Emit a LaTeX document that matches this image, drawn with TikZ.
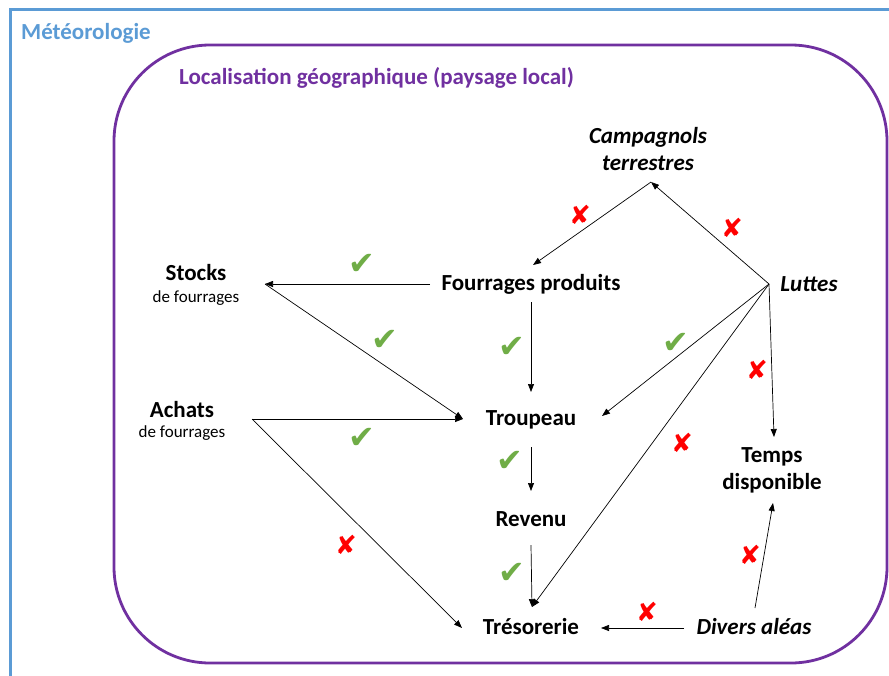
\documentclass[tikz,border=0pt]{standalone}
\usepackage{fontspec}
\setmainfont{Carlito}
\newfontfamily\symfont{DejaVu Sans}
\usetikzlibrary{arrows.meta}
\definecolor{meteo}{RGB}{91,155,213}
\definecolor{loc}{RGB}{112,48,160}
\definecolor{okgreen}{RGB}{112,173,71}
\definecolor{nored}{RGB}{255,0,0}
\begin{document}
\begin{tikzpicture}[x=1pt,y=-1pt,
  lbl/.style={font=\fontsize{23}{27}\selectfont\bfseries, align=center, inner sep=0pt},
  ilbl/.style={font=\fontsize{23}{27}\selectfont\bfseries\itshape, align=center, inner sep=0pt},
  sub/.style={font=\fontsize{17}{20}\selectfont, inner sep=0pt},
  link/.style={draw=black, line width=0.7pt, -{Triangle[length=8pt,width=6pt]}},
  ok/.style={text=okgreen, font=\symfont\fontsize{32}{32}\selectfont, inner sep=0pt},
  nok/.style={text=nored, font=\symfont\bfseries\fontsize{26}{26}\selectfont, inner sep=0pt}]
\useasboundingbox (0,0) rectangle (889,675);
% frames
\draw[meteo, line width=3pt] (10,680) -- (10,9) -- (895,9);
\draw[loc, line width=2.8pt, rounded corners=96pt] (114,45) rectangle (887,663);
\node[lbl, anchor=west, text=meteo] (meteo) at (21,33) {Météorologie};
\node[lbl, anchor=west, text=loc] (loc) at (179,78) {Localisation géographique (paysage local)};
% nodes
\node[ilbl] (camp) at (648,149) {Campagnols\\terrestres};
\node[lbl] (fp) at (531,284) {Fourrages produits};
\node[lbl] (stocks) at (196,273) {Stocks};
\node[sub] (stocksd) at (196,298) {de fourrages};
\node[lbl] (achats) at (182,410) {Achats};
\node[sub] (achatsd) at (182,433) {de fourrages};
\node[lbl] (troupeau) at (531,420) {Troupeau};
\node[lbl] (revenu) at (531,519) {Revenu};
\node[lbl] (treso) at (531,627) {Trésorerie};
\node[ilbl] (luttes) at (809,284) {Luttes};
\node[lbl] (temps) at (772,470) {Temps\\disponible};
\node[ilbl] (divers) at (754,627) {Divers aléas};
% connection points
\coordinate (stocksPt) at (265,284);
\coordinate (achatsPt) at (252,419);
\coordinate (luttesPt) at (769,284);
\coordinate (campS) at (651,182);
\coordinate (fpW) at (430,284);
\coordinate (fpS) at (531,302);
\coordinate (fpN) at (533,265);
\coordinate (troupW) at (463,419);
\coordinate (troupN) at (531,392);
\coordinate (troupS) at (531,447);
\coordinate (troupE) at (602,416);
\coordinate (revN) at (531,491);
\coordinate (revS) at (531,545);
\coordinate (tresoN) at (532,607);
\coordinate (tresoNW) at (462,628);
\coordinate (tresoE) at (601,628);
\coordinate (tempsN) at (774,437);
\coordinate (tempsS) at (773,503);
\coordinate (diversN) at (755,608);
\coordinate (diversW) at (684,628);
% connectors
\draw[link] (fpW) -- (stocksPt);
\draw[link] (stocksPt) -- (troupW);
\draw[link] (achatsPt) -- (troupW);
\draw[link] (achatsPt) -- (tresoNW);
\draw[link] (fpS) -- (troupN);
\draw[link] (troupS) -- (revN);
\draw[link] (revS) -- (tresoN);
\draw[link] (campS) -- (fpN);
\draw[link] (luttesPt) -- (campS);
\draw[link] (luttesPt) -- (troupE);
\draw[link] (luttesPt) -- (tresoN);
\draw[link] (luttesPt) -- (tempsN);
\draw[link] (diversN) -- (tempsS);
\draw[link] (diversW) -- (tresoE);
% marks
\node[ok] (ok1) at (362,264) {✔};
\node[ok] (ok2) at (385,340) {✔};
\node[ok] (ok3) at (512,347) {✔};
\node[ok] (ok4) at (676,343) {✔};
\node[ok] (ok5) at (362,438) {✔};
\node[ok] (ok6) at (510,461) {✔};
\node[ok] (ok7) at (512,573) {✔};
\node[nok] (no1) at (580,215) {✘};
\node[nok] (no2) at (732,228) {✘};
\node[nok] (no3) at (757,370) {✘};
\node[nok] (no4) at (682,443) {✘};
\node[nok] (no5) at (346,545) {✘};
\node[nok] (no6) at (750,555) {✘};
\node[nok] (no7) at (647,612) {✘};
\end{tikzpicture}
\end{document}
